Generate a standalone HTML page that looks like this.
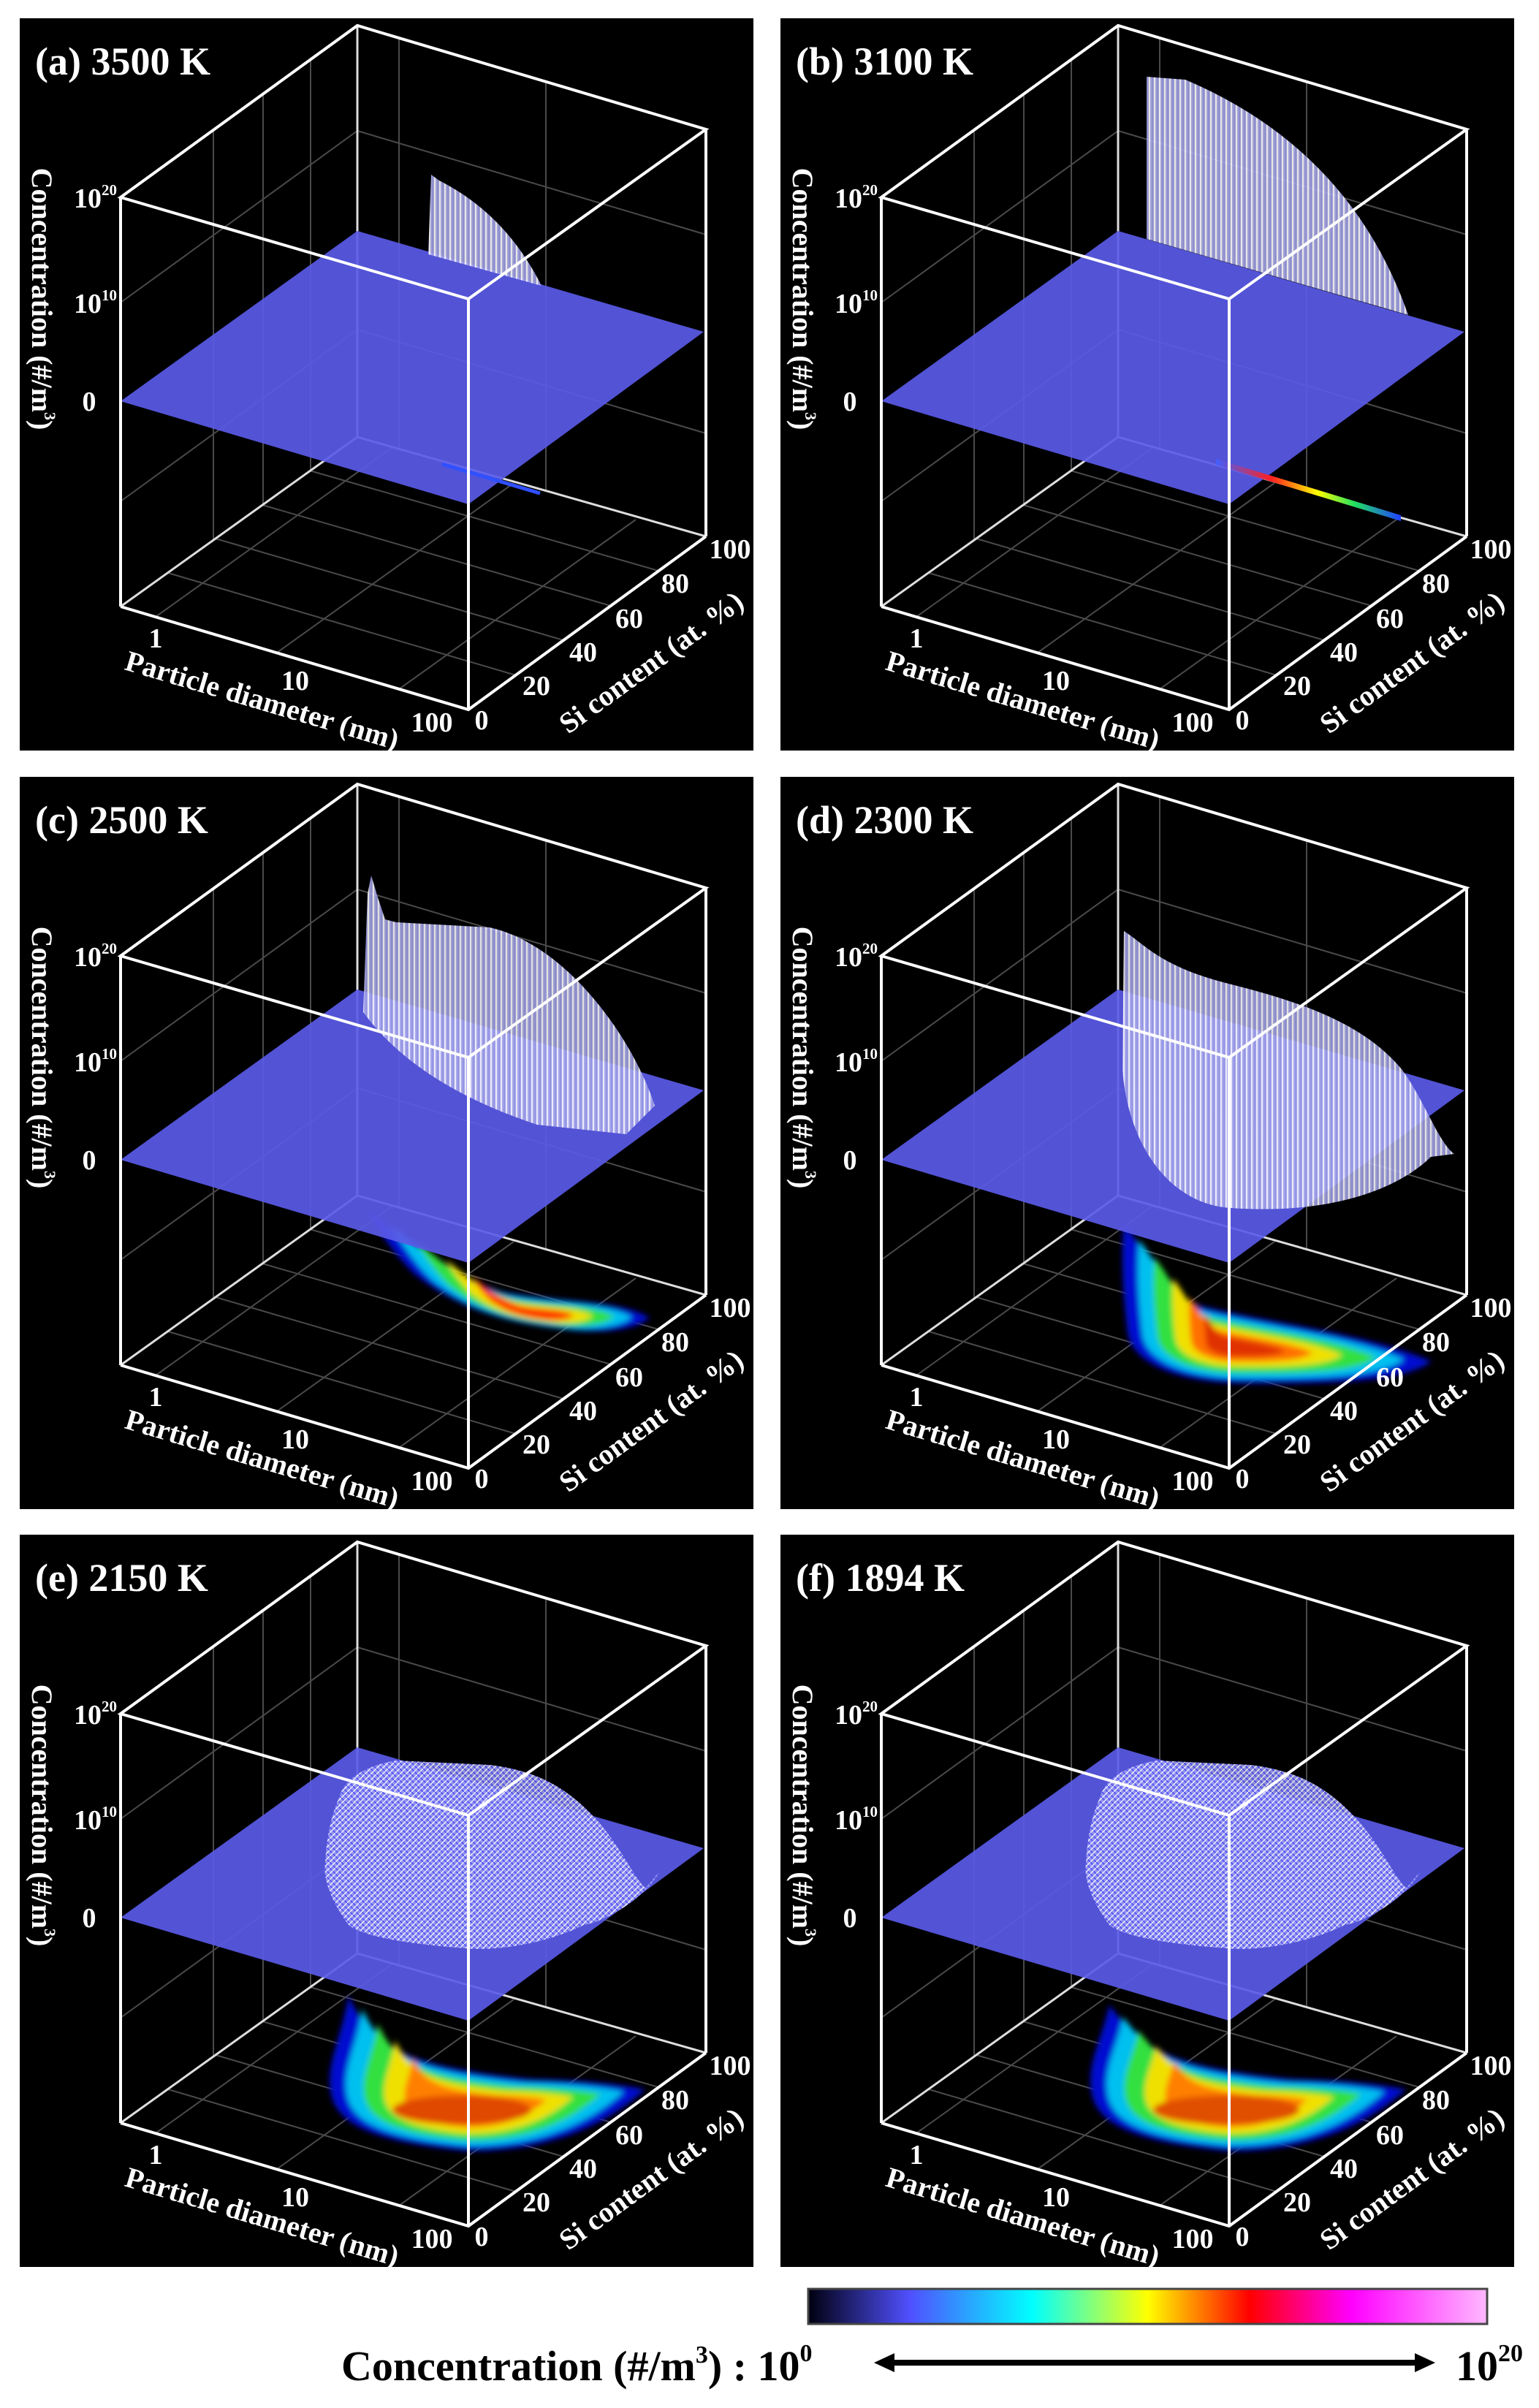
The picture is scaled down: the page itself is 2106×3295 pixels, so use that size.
<!DOCTYPE html>
<html><head><meta charset="utf-8">
<style>
html,body{margin:0;padding:0;background:#fff;}
svg{display:block;}
text{font-family:"Liberation Serif",serif;font-weight:bold;fill:#fff;}
.g{stroke:#4a4a4a;stroke-width:2;fill:none;}
.e{stroke:#fff;stroke-width:4;fill:none;}
.b{stroke:#ddd;stroke-width:3;fill:none;}
.t{font-size:38px;}
.l{font-size:40px;}
.ti{font-size:54px;}
</style></head>
<body>
<svg width="2106" height="3295" viewBox="0 0 2106 3295" xmlns="http://www.w3.org/2000/svg">
<defs>
<pattern id="st" width="7" height="7" patternUnits="userSpaceOnUse">
<rect width="7" height="7" fill="#b4b4ee"/><line x1="1" y1="0" x2="1" y2="7" stroke="#ffffff" stroke-width="2"/><line x1="5" y1="0" x2="5" y2="7" stroke="#8888dd" stroke-width="1"/>
</pattern>
<pattern id="dm" width="8" height="8" patternUnits="userSpaceOnUse">
<rect width="8" height="8" fill="#9a9af0"/><line x1="0" y1="0" x2="8" y2="8" stroke="#4a4aff" stroke-width="1.5"/><line x1="8" y1="0" x2="0" y2="8" stroke="#ffffff" stroke-width="1.5"/>
</pattern>
<linearGradient id="cb" x1="0" x2="1" y1="0" y2="0">
<stop offset="0" stop-color="#000010"/><stop offset="0.15" stop-color="#5050ff"/><stop offset="0.33" stop-color="#00ffff"/><stop offset="0.5" stop-color="#ffff00"/><stop offset="0.65" stop-color="#ff0000"/><stop offset="0.8" stop-color="#ff00ff"/><stop offset="1" stop-color="#ffb8ff"/>
</linearGradient>
<linearGradient id="fl" x1="0" x2="1" y1="0" y2="0">
<stop offset="0" stop-color="#4060ff"/><stop offset="0.3" stop-color="#ff2020"/><stop offset="0.55" stop-color="#ffff00"/><stop offset="0.75" stop-color="#20e060"/><stop offset="1" stop-color="#2040ff"/>
</linearGradient>
<filter id="bl"><feGaussianBlur stdDeviation="4"/></filter>
</defs>

<!-- ============ PANEL A ============ -->
<g transform="translate(27,25)">
<rect width="1004" height="1002" fill="#000"/>
<path class="g" d="M265,153V714M333,104V665M398,56V619M519,27V589M720,87V646M138,389L462,154L939,296M138,661L462,426L939,568M203,759L679,899M268,712L744,851M332,666L809,804M397,619L874,756M186,819L510,587M352,868L676,636M519,918L843,686"/>
<path class="b" d="M462,10V573M462,573L138,805M462,573L939,709"/>
<polygon points="138,524 614,665 936,429 462,291" fill="#5a5ae8" opacity="0.92"/>
<path d="M559,323 L563,214 L574,222 Q665,268 714,366 Z" fill="url(#st)" opacity="0.9"/>
<path d="M578,610 L712,650" stroke="#3050ff" stroke-width="5"/>
<path class="e" d="M138,245L462,10L939,152L614,384ZM138,245V805M614,384V946M939,152V709M138,805L614,946L939,709"/>
<text class="ti" x="21" y="77">(a) 3500 K</text>
<text class="t" x="133" y="259" text-anchor="end">10<tspan font-size="21" dy="-17">20</tspan></text>
<text class="t" x="133" y="403" text-anchor="end">10<tspan font-size="21" dy="-17">10</tspan></text>
<text class="t" x="95" y="537" text-anchor="middle">0</text>
<text class="l" transform="translate(17,384) rotate(90)" text-anchor="middle">Concentration (#/m<tspan font-size="22" dy="-17">3</tspan><tspan dy="17">)</tspan></text>
<text class="t" x="186" y="861" text-anchor="middle">1</text>
<text class="t" x="377" y="919" text-anchor="middle">10</text>
<text class="t" x="564" y="976" text-anchor="middle">100</text>
<text class="l" transform="translate(328,946) rotate(16.5)" text-anchor="middle">Particle diameter (nm)</text>
<text class="t" x="632" y="973" text-anchor="middle">0</text>
<text class="t" x="707" y="926" text-anchor="middle">20</text>
<text class="t" x="771" y="880" text-anchor="middle">40</text>
<text class="t" x="834" y="834" text-anchor="middle">60</text>
<text class="t" x="897" y="786" text-anchor="middle">80</text>
<text class="t" x="972" y="739" text-anchor="middle">100</text>
<text class="l" transform="translate(872,892) rotate(-36)" text-anchor="middle">Si content (at. %)</text>
</g>

<!-- ============ PANEL B ============ -->
<g transform="translate(1068,25)">
<rect width="1004" height="1002" fill="#000"/>
<path class="g" d="M265,153V714M333,104V665M398,56V619M519,27V589M720,87V646M138,389L462,154L939,296M138,661L462,426L939,568M203,759L679,899M268,712L744,851M332,666L809,804M397,619L874,756M186,819L510,587M352,868L676,636M519,918L843,686"/>
<path class="b" d="M462,10V573M462,573L138,805M462,573L939,709"/>
<polygon points="138,524 614,665 936,429 462,291" fill="#5a5ae8" opacity="0.92"/>
<path d="M501,302 L501,80 L554,84 Q780,180 859,406 Z" fill="url(#st)" opacity="0.9"/>
<path d="M596,603 L849,680 L849,688 L596,611 Z" fill="url(#fl)"/>
<path class="e" d="M138,245L462,10L939,152L614,384ZM138,245V805M614,384V946M939,152V709M138,805L614,946L939,709"/>
<text class="ti" x="21" y="77">(b) 3100 K</text>
<text class="t" x="133" y="259" text-anchor="end">10<tspan font-size="21" dy="-17">20</tspan></text>
<text class="t" x="133" y="403" text-anchor="end">10<tspan font-size="21" dy="-17">10</tspan></text>
<text class="t" x="95" y="537" text-anchor="middle">0</text>
<text class="l" transform="translate(17,384) rotate(90)" text-anchor="middle">Concentration (#/m<tspan font-size="22" dy="-17">3</tspan><tspan dy="17">)</tspan></text>
<text class="t" x="186" y="861" text-anchor="middle">1</text>
<text class="t" x="377" y="919" text-anchor="middle">10</text>
<text class="t" x="564" y="976" text-anchor="middle">100</text>
<text class="l" transform="translate(328,946) rotate(16.5)" text-anchor="middle">Particle diameter (nm)</text>
<text class="t" x="632" y="973" text-anchor="middle">0</text>
<text class="t" x="707" y="926" text-anchor="middle">20</text>
<text class="t" x="771" y="880" text-anchor="middle">40</text>
<text class="t" x="834" y="834" text-anchor="middle">60</text>
<text class="t" x="897" y="786" text-anchor="middle">80</text>
<text class="t" x="972" y="739" text-anchor="middle">100</text>
<text class="l" transform="translate(872,892) rotate(-36)" text-anchor="middle">Si content (at. %)</text>
</g>

<!-- ============ PANEL C ============ -->
<g transform="translate(27,1063)">
<rect width="1004" height="1002" fill="#000"/>
<path class="g" d="M265,153V714M333,104V665M398,56V619M519,27V589M720,87V646M138,389L462,154L939,296M138,661L462,426L939,568M203,759L679,899M268,712L744,851M332,666L809,804M397,619L874,756M186,819L510,587M352,868L676,636M519,918L843,686"/>
<path class="b" d="M462,10V573M462,573L138,805M462,573L939,709"/>
<g filter="url(#bl)">
<path d="M476,592 C520,630 580,680 660,705 C740,720 820,715 862,740 C840,760 780,762 740,755 C650,745 590,720 540,680 C510,650 490,620 476,592 Z" fill="#0010d0"/>
<path transform="translate(700,735) scale(0.85) translate(-700,-735)" d="M476,592 C520,630 580,680 660,705 C740,720 820,715 862,740 C840,760 780,762 740,755 C650,745 590,720 540,680 C510,650 490,620 476,592 Z" fill="#00c0f0"/>
<path transform="translate(700,735) scale(0.7) translate(-700,-735)" d="M476,592 C520,630 580,680 660,705 C740,720 820,715 862,740 C840,760 780,762 740,755 C650,745 590,720 540,680 C510,650 490,620 476,592 Z" fill="#30e040"/>
<path transform="translate(700,735) scale(0.52) translate(-700,-735)" d="M476,592 C520,630 580,680 660,705 C740,720 820,715 862,740 C840,760 780,762 740,755 C650,745 590,720 540,680 C510,650 490,620 476,592 Z" fill="#f0e000"/>
<path transform="translate(700,735) scale(0.36) translate(-700,-735)" d="M476,592 C520,630 580,680 660,705 C740,720 820,715 862,740 C840,760 780,762 740,755 C650,745 590,720 540,680 C510,650 490,620 476,592 Z" fill="#ff3000"/>
</g>
<polygon points="138,524 614,665 936,429 462,291" fill="#5a5ae8" opacity="0.92"/>
<path d="M470,322 L476,160 L481,135 L490,165 L500,195 L515,199 L643,206 C750,230 840,360 869,450 L830,489 L708,476 C600,440 520,390 470,322 Z" fill="url(#st)" opacity="0.88"/>
<path class="e" d="M138,245L462,10L939,152L614,384ZM138,245V805M614,384V946M939,152V709M138,805L614,946L939,709"/>
<text class="ti" x="21" y="77">(c) 2500 K</text>
<text class="t" x="133" y="259" text-anchor="end">10<tspan font-size="21" dy="-17">20</tspan></text>
<text class="t" x="133" y="403" text-anchor="end">10<tspan font-size="21" dy="-17">10</tspan></text>
<text class="t" x="95" y="537" text-anchor="middle">0</text>
<text class="l" transform="translate(17,384) rotate(90)" text-anchor="middle">Concentration (#/m<tspan font-size="22" dy="-17">3</tspan><tspan dy="17">)</tspan></text>
<text class="t" x="186" y="861" text-anchor="middle">1</text>
<text class="t" x="377" y="919" text-anchor="middle">10</text>
<text class="t" x="564" y="976" text-anchor="middle">100</text>
<text class="l" transform="translate(328,946) rotate(16.5)" text-anchor="middle">Particle diameter (nm)</text>
<text class="t" x="632" y="973" text-anchor="middle">0</text>
<text class="t" x="707" y="926" text-anchor="middle">20</text>
<text class="t" x="771" y="880" text-anchor="middle">40</text>
<text class="t" x="834" y="834" text-anchor="middle">60</text>
<text class="t" x="897" y="786" text-anchor="middle">80</text>
<text class="t" x="972" y="739" text-anchor="middle">100</text>
<text class="l" transform="translate(872,892) rotate(-36)" text-anchor="middle">Si content (at. %)</text>
</g>

<!-- ============ PANEL D ============ -->
<g transform="translate(1068,1063)">
<rect width="1004" height="1002" fill="#000"/>
<path class="g" d="M265,153V714M333,104V665M398,56V619M519,27V589M720,87V646M138,389L462,154L939,296M138,661L462,426L939,568M203,759L679,899M268,712L744,851M332,666L809,804M397,619L874,756M186,819L510,587M352,868L676,636M519,918L843,686"/>
<path class="b" d="M462,10V573M462,573L138,805M462,573L939,709"/>
<g filter="url(#bl)">
<path d="M470,611 C495,640 520,700 560,720 C650,745 800,760 891,800 C850,830 740,830 640,830 C540,830 480,800 475,760 C470,720 465,660 470,611 Z" fill="#0010d0"/>
<path transform="translate(620,780) scale(0.86) translate(-620,-780)" d="M470,611 C495,640 520,700 560,720 C650,745 800,760 891,800 C850,830 740,830 640,830 C540,830 480,800 475,760 C470,720 465,660 470,611 Z" fill="#00c0f0"/>
<path transform="translate(620,780) scale(0.72) translate(-620,-780)" d="M470,611 C495,640 520,700 560,720 C650,745 800,760 891,800 C850,830 740,830 640,830 C540,830 480,800 475,760 C470,720 465,660 470,611 Z" fill="#30e040"/>
<path transform="translate(620,780) scale(0.55) translate(-620,-780)" d="M470,611 C495,640 520,700 560,720 C650,745 800,760 891,800 C850,830 740,830 640,830 C540,830 480,800 475,760 C470,720 465,660 470,611 Z" fill="#f0e000"/>
<path transform="translate(620,780) scale(0.4) translate(-620,-780)" d="M470,611 C495,640 520,700 560,720 C650,745 800,760 891,800 C850,830 740,830 640,830 C540,830 480,800 475,760 C470,720 465,660 470,611 Z" fill="#ff7000"/>
<path transform="translate(620,780) scale(0.26) translate(-620,-780)" d="M470,611 C495,640 520,700 560,720 C650,745 800,760 891,800 C850,830 740,830 640,830 C540,830 480,800 475,760 C470,720 465,660 470,611 Z" fill="#e03000"/>
</g>
<polygon points="138,524 614,665 936,429 462,291" fill="#5a5ae8" opacity="0.92"/>
<path d="M470,211 C500,230 520,260 617,284 C720,310 800,340 850,400 C880,440 900,500 922,516 L890,520 C850,560 760,600 617,590 C530,585 475,500 468,400 Z" fill="url(#st)" opacity="0.88"/>
<path class="e" d="M138,245L462,10L939,152L614,384ZM138,245V805M614,384V946M939,152V709M138,805L614,946L939,709"/>
<text class="ti" x="21" y="77">(d) 2300 K</text>
<text class="t" x="133" y="259" text-anchor="end">10<tspan font-size="21" dy="-17">20</tspan></text>
<text class="t" x="133" y="403" text-anchor="end">10<tspan font-size="21" dy="-17">10</tspan></text>
<text class="t" x="95" y="537" text-anchor="middle">0</text>
<text class="l" transform="translate(17,384) rotate(90)" text-anchor="middle">Concentration (#/m<tspan font-size="22" dy="-17">3</tspan><tspan dy="17">)</tspan></text>
<text class="t" x="186" y="861" text-anchor="middle">1</text>
<text class="t" x="377" y="919" text-anchor="middle">10</text>
<text class="t" x="564" y="976" text-anchor="middle">100</text>
<text class="l" transform="translate(328,946) rotate(16.5)" text-anchor="middle">Particle diameter (nm)</text>
<text class="t" x="632" y="973" text-anchor="middle">0</text>
<text class="t" x="707" y="926" text-anchor="middle">20</text>
<text class="t" x="771" y="880" text-anchor="middle">40</text>
<text class="t" x="834" y="834" text-anchor="middle">60</text>
<text class="t" x="897" y="786" text-anchor="middle">80</text>
<text class="t" x="972" y="739" text-anchor="middle">100</text>
<text class="l" transform="translate(872,892) rotate(-36)" text-anchor="middle">Si content (at. %)</text>
</g>

<!-- ============ PANEL E ============ -->
<g transform="translate(27,2100)">
<rect width="1004" height="1002" fill="#000"/>
<path class="g" d="M265,153V714M333,104V665M398,56V619M519,27V589M720,87V646M138,389L462,154L939,296M138,661L462,426L939,568M203,759L679,899M268,712L744,851M332,666L809,804M397,619L874,756M186,819L510,587M352,868L676,636M519,918L843,686"/>
<path class="b" d="M462,10V573M462,573L138,805M462,573L939,709"/>
<g filter="url(#bl)">
<path d="M450,630 C440,690 420,720 425,760 C430,800 470,830 611,843 C720,845 800,810 856,759 C800,748 740,746 700,745 C600,735 520,720 483,682 C470,668 458,650 450,630 Z" fill="#0010d0"/>
<path transform="translate(610,785) scale(0.88) translate(-610,-785)" d="M450,630 C440,690 420,720 425,760 C430,800 470,830 611,843 C720,845 800,810 856,759 C800,748 740,746 700,745 C600,735 520,720 483,682 C470,668 458,650 450,630 Z" fill="#00c0f0"/>
<path transform="translate(610,785) scale(0.75) translate(-610,-785)" d="M450,630 C440,690 420,720 425,760 C430,800 470,830 611,843 C720,845 800,810 856,759 C800,748 740,746 700,745 C600,735 520,720 483,682 C470,668 458,650 450,630 Z" fill="#30e040"/>
<path transform="translate(610,785) scale(0.6) translate(-610,-785)" d="M450,630 C440,690 420,720 425,760 C430,800 470,830 611,843 C720,845 800,810 856,759 C800,748 740,746 700,745 C600,735 520,720 483,682 C470,668 458,650 450,630 Z" fill="#f0e000"/>
<path transform="translate(610,785) scale(0.45) translate(-610,-785)" d="M450,630 C440,690 420,720 425,760 C430,800 470,830 611,843 C720,845 800,810 856,759 C800,748 740,746 700,745 C600,735 520,720 483,682 C470,668 458,650 450,630 Z" fill="#ff8000"/>
<ellipse cx="605" cy="787" rx="95" ry="20" fill="#e04800"/>
</g>
<polygon points="138,524 614,665 936,429 462,291" fill="#5a5ae8" opacity="0.92"/>
<path d="M437,360 C445,330 480,315 515,309 L643,315 C700,322 740,340 780,380 C820,420 840,470 856,483 C865,475 870,465 875,463 L870,470 C850,500 800,530 772,534 C720,560 650,570 611,566 C530,560 470,550 450,534 C425,500 415,470 418,450 C420,410 428,380 437,360 Z" fill="url(#dm)" opacity="0.9"/>
<path class="e" d="M138,245L462,10L939,152L614,384ZM138,245V805M614,384V946M939,152V709M138,805L614,946L939,709"/>
<text class="ti" x="21" y="77">(e) 2150 K</text>
<text class="t" x="133" y="259" text-anchor="end">10<tspan font-size="21" dy="-17">20</tspan></text>
<text class="t" x="133" y="403" text-anchor="end">10<tspan font-size="21" dy="-17">10</tspan></text>
<text class="t" x="95" y="537" text-anchor="middle">0</text>
<text class="l" transform="translate(17,384) rotate(90)" text-anchor="middle">Concentration (#/m<tspan font-size="22" dy="-17">3</tspan><tspan dy="17">)</tspan></text>
<text class="t" x="186" y="861" text-anchor="middle">1</text>
<text class="t" x="377" y="919" text-anchor="middle">10</text>
<text class="t" x="564" y="976" text-anchor="middle">100</text>
<text class="l" transform="translate(328,946) rotate(16.5)" text-anchor="middle">Particle diameter (nm)</text>
<text class="t" x="632" y="973" text-anchor="middle">0</text>
<text class="t" x="707" y="926" text-anchor="middle">20</text>
<text class="t" x="771" y="880" text-anchor="middle">40</text>
<text class="t" x="834" y="834" text-anchor="middle">60</text>
<text class="t" x="897" y="786" text-anchor="middle">80</text>
<text class="t" x="972" y="739" text-anchor="middle">100</text>
<text class="l" transform="translate(872,892) rotate(-36)" text-anchor="middle">Si content (at. %)</text>
</g>

<!-- ============ PANEL F ============ -->
<g transform="translate(1068,2100)">
<rect width="1004" height="1002" fill="#000"/>
<path class="g" d="M265,153V714M333,104V665M398,56V619M519,27V589M720,87V646M138,389L462,154L939,296M138,661L462,426L939,568M203,759L679,899M268,712L744,851M332,666L809,804M397,619L874,756M186,819L510,587M352,868L676,636M519,918L843,686"/>
<path class="b" d="M462,10V573M462,573L138,805M462,573L939,709"/>
<g filter="url(#bl)">
<path d="M450,643 C440,690 420,720 425,760 C430,800 470,830 611,843 C720,845 800,810 856,759 C800,748 740,746 700,745 C600,735 520,720 483,682 C470,668 458,655 450,643 Z" fill="#0010d0"/>
<path transform="translate(610,785) scale(0.88) translate(-610,-785)" d="M450,643 C440,690 420,720 425,760 C430,800 470,830 611,843 C720,845 800,810 856,759 C800,748 740,746 700,745 C600,735 520,720 483,682 C470,668 458,655 450,643 Z" fill="#00c0f0"/>
<path transform="translate(610,785) scale(0.75) translate(-610,-785)" d="M450,643 C440,690 420,720 425,760 C430,800 470,830 611,843 C720,845 800,810 856,759 C800,748 740,746 700,745 C600,735 520,720 483,682 C470,668 458,655 450,643 Z" fill="#30e040"/>
<path transform="translate(610,785) scale(0.6) translate(-610,-785)" d="M450,643 C440,690 420,720 425,760 C430,800 470,830 611,843 C720,845 800,810 856,759 C800,748 740,746 700,745 C600,735 520,720 483,682 C470,668 458,655 450,643 Z" fill="#f0e000"/>
<path transform="translate(610,785) scale(0.45) translate(-610,-785)" d="M450,643 C440,690 420,720 425,760 C430,800 470,830 611,843 C720,845 800,810 856,759 C800,748 740,746 700,745 C600,735 520,720 483,682 C470,668 458,655 450,643 Z" fill="#ff8000"/>
<ellipse cx="610" cy="787" rx="100" ry="20" fill="#e05000"/>
</g>
<polygon points="138,524 614,665 936,429 462,291" fill="#5a5ae8" opacity="0.92"/>
<path d="M437,360 C445,330 480,315 515,309 L643,315 C700,322 740,340 780,380 C820,420 840,470 856,483 C865,475 870,465 875,463 L870,470 C850,500 800,530 772,534 C720,560 650,570 611,566 C530,560 470,550 450,534 C425,500 415,470 418,450 C420,410 428,380 437,360 Z" fill="url(#dm)" opacity="0.9"/>
<path class="e" d="M138,245L462,10L939,152L614,384ZM138,245V805M614,384V946M939,152V709M138,805L614,946L939,709"/>
<text class="ti" x="21" y="77">(f) 1894 K</text>
<text class="t" x="133" y="259" text-anchor="end">10<tspan font-size="21" dy="-17">20</tspan></text>
<text class="t" x="133" y="403" text-anchor="end">10<tspan font-size="21" dy="-17">10</tspan></text>
<text class="t" x="95" y="537" text-anchor="middle">0</text>
<text class="l" transform="translate(17,384) rotate(90)" text-anchor="middle">Concentration (#/m<tspan font-size="22" dy="-17">3</tspan><tspan dy="17">)</tspan></text>
<text class="t" x="186" y="861" text-anchor="middle">1</text>
<text class="t" x="377" y="919" text-anchor="middle">10</text>
<text class="t" x="564" y="976" text-anchor="middle">100</text>
<text class="l" transform="translate(328,946) rotate(16.5)" text-anchor="middle">Particle diameter (nm)</text>
<text class="t" x="632" y="973" text-anchor="middle">0</text>
<text class="t" x="707" y="926" text-anchor="middle">20</text>
<text class="t" x="771" y="880" text-anchor="middle">40</text>
<text class="t" x="834" y="834" text-anchor="middle">60</text>
<text class="t" x="897" y="786" text-anchor="middle">80</text>
<text class="t" x="972" y="739" text-anchor="middle">100</text>
<text class="l" transform="translate(872,892) rotate(-36)" text-anchor="middle">Si content (at. %)</text>
</g>

<!-- ============ COLORBAR ============ -->
<rect x="1106" y="3132" width="929" height="48" fill="url(#cb)" stroke="#444" stroke-width="3"/>
<text x="467" y="3257" font-size="58" style="fill:#000">Concentration (#/m<tspan font-size="34" dy="-24">3</tspan><tspan dy="24">) : 10</tspan><tspan font-size="34" dy="-26">0</tspan></text>
<line x1="1220" y1="3233" x2="1940" y2="3233" stroke="#000" stroke-width="8"/>
<polygon points="1196,3233 1224,3220 1224,3246" fill="#000"/>
<polygon points="1964,3233 1936,3220 1936,3246" fill="#000"/>
<text x="1992" y="3257" font-size="58" style="fill:#000">10<tspan font-size="34" dy="-26">20</tspan></text>
</svg>
</body></html>
